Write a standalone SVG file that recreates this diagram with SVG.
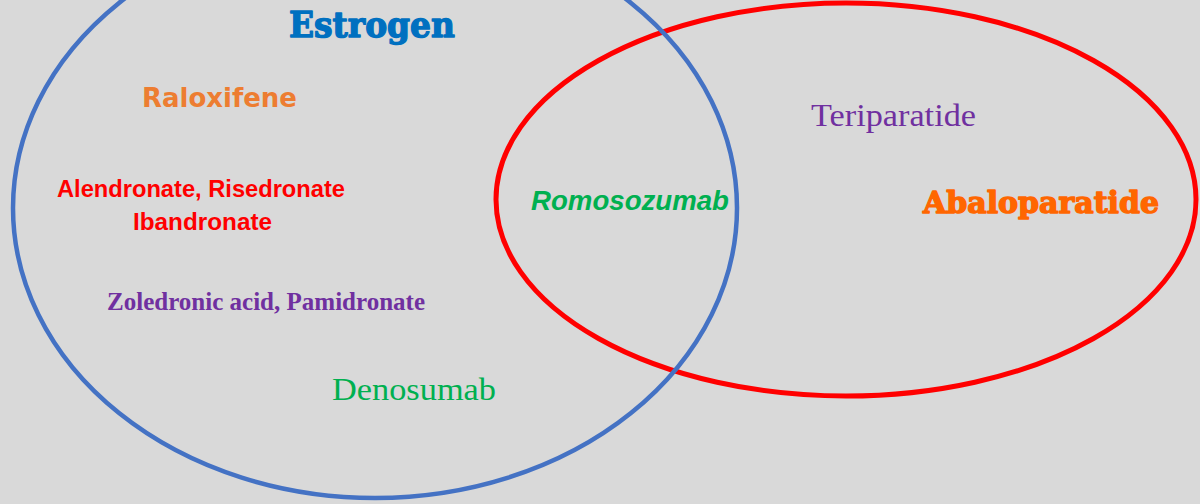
<svg xmlns="http://www.w3.org/2000/svg" width="1200" height="504" viewBox="0 0 1200 504">
<style>
.set{fill:none}
.heavy{font-family:"DejaVu Serif","Liberation Serif",serif;font-weight:bold;stroke-width:1.4;stroke-linejoin:round}
.sans{font-family:"Liberation Sans","DejaVu Sans",sans-serif;font-weight:bold}
.verd{font-family:"DejaVu Sans","Liberation Sans",sans-serif;font-weight:bold}
.serif{font-family:"Liberation Serif","DejaVu Serif",serif}
</style>
<rect x="0" y="0" width="1200" height="504" fill="#d9d9d9"/>
<g id="sets">
<g id="pth-set"><ellipse class="set" cx="846" cy="199.5" rx="350" ry="196.5" stroke="#ff0000" stroke-width="5"/></g>
<g id="estrogen-set"><ellipse class="set" cx="375" cy="208" rx="362" ry="290" stroke="#4472c4" stroke-width="4.5"/></g>
</g>
<g id="labels">
<g id="estrogen"><text class="heavy" x="289" y="37" font-size="36" fill="#0070c0" stroke="#0070c0" textLength="166" lengthAdjust="spacingAndGlyphs">Estrogen</text></g>
<g id="raloxifene"><text class="verd" x="142" y="107" font-size="26" fill="#ed7d31" textLength="155" lengthAdjust="spacingAndGlyphs">Raloxifene</text></g>
<g id="bisphosphonates-oral">
<text class="sans" x="57" y="197" font-size="24" fill="#ff0000" textLength="288" lengthAdjust="spacingAndGlyphs">Alendronate, Risedronate</text>
<text class="sans" x="133" y="230" font-size="24" fill="#ff0000" textLength="139" lengthAdjust="spacingAndGlyphs">Ibandronate</text>
</g>
<g id="bisphosphonates-iv"><text class="serif" font-weight="bold" x="107" y="310" font-size="25" fill="#7030a0" textLength="318" lengthAdjust="spacingAndGlyphs">Zoledronic acid, Pamidronate</text></g>
<g id="denosumab"><text class="serif" x="332" y="400" font-size="32" fill="#00b050" textLength="164" lengthAdjust="spacingAndGlyphs">Denosumab</text></g>
<g id="romosozumab"><text class="sans" font-style="italic" x="531" y="210" font-size="28" fill="#00b050" textLength="198" lengthAdjust="spacingAndGlyphs">Romosozumab</text></g>
<g id="teriparatide"><text class="serif" x="811" y="126" font-size="32" fill="#7030a0" textLength="165" lengthAdjust="spacingAndGlyphs">Teriparatide</text></g>
<g id="abaloparatide"><text class="heavy" x="923" y="213" font-size="30" fill="#ff6600" stroke="#ff6600" textLength="236" lengthAdjust="spacingAndGlyphs">Abaloparatide</text></g>
</g>
</svg>
